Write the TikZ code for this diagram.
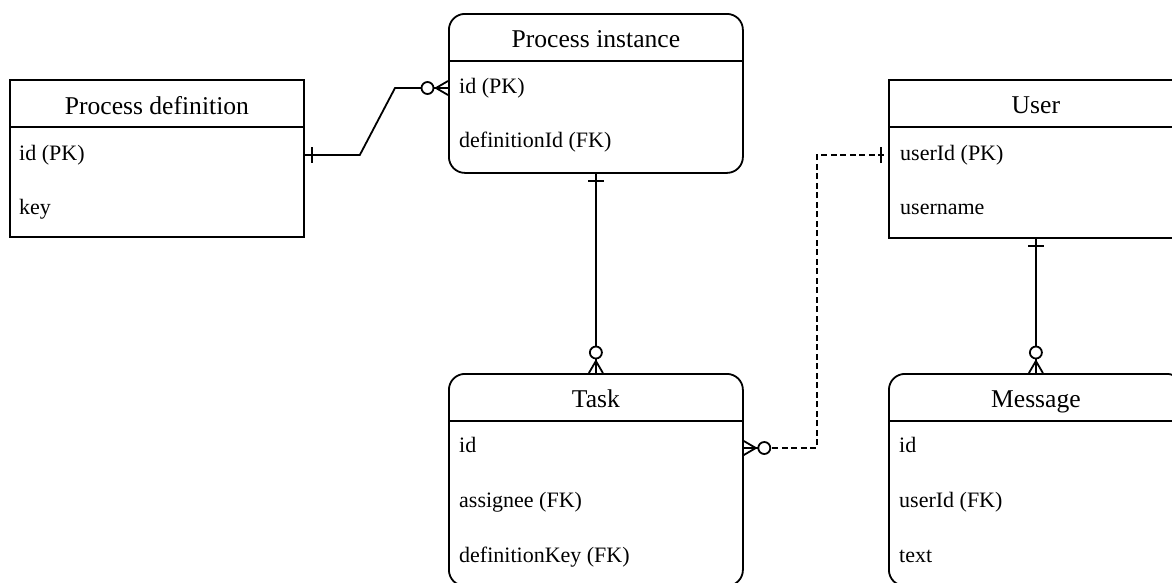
\documentclass[tikz,border=0pt]{standalone}
\usepackage{fontspec}
\setmainfont{Liberation Serif}
\usetikzlibrary{calc}
\tikzset{
  entity/.style={draw, line width=1.8pt, minimum width=294pt, inner sep=0pt, anchor=north west},
  roundent/.style={entity, rounded corners=16pt},
  hdr/.style={anchor=base, inner sep=0pt, font=\fontsize{25.6}{30}\selectfont},
  field/.style={anchor=base west, inner sep=0pt, font=\fontsize{22}{26}\selectfont},
  link/.style={line width=1.8pt},
  dashedlink/.style={link, dash pattern=on 6pt off 3.5pt},
  pics/onemark/.style={code={\draw[link] (7,-8) -- (7,8);}},
  pics/zeromany/.style={code={
    \draw[link] (0,-7) -- (12,0) (0,0) -- (12,0) (0,7) -- (12,0);
    \draw[link, fill=white] (20.5,0) circle (6pt);}}
}
\begin{document}
\begin{tikzpicture}[x=1pt, y=-1pt]
  \fill[white] (0,0) rectangle (1172,582);
  \clip (0,0) rectangle (1172,582);

  % entities
  \node[entity, minimum height=157pt] (pd) at (9,79) {};
  \node[roundent, minimum height=159pt] (pi) at (448,13) {};
  \node[entity, minimum height=158pt] (us) at (888,79) {};
  \node[roundent, minimum height=212pt] (tk) at (448,373) {};
  \node[roundent, minimum height=212pt] (ms) at (888,373) {};

  % header separators
  \foreach \e in {pd,pi,us,tk,ms}
    \draw[link] ($(\e.north west)+(0,48)$) -- ($(\e.north east)+(0,48)$);

  % titles
  \node[hdr] (pd-title) at ($(pd.north)+(0,35)$) {Process definition};
  \node[hdr] (pi-title) at ($(pi.north)+(0,34)$) {Process instance};
  \node[hdr] (us-title) at ($(us.north)+(0,34)$) {User};
  \node[hdr] (tk-title) at ($(tk.north)+(0,34)$) {Task};
  \node[hdr] (ms-title) at ($(ms.north)+(0,34)$) {Message};

  % fields
  \node[field] (pd-f1) at ($(pd.north west)+(10,81)$) {id (PK)};
  \node[field] (pd-f2) at ($(pd.north west)+(10,135)$) {key};
  \node[field] (pi-f1) at ($(pi.north west)+(11,80)$) {id (PK)};
  \node[field] (pi-f2) at ($(pi.north west)+(11,134)$) {definitionId (FK)};
  \node[field] (us-f1) at ($(us.north west)+(12,81)$) {userId (PK)};
  \node[field] (us-f2) at ($(us.north west)+(12,135)$) {username};
  \node[field] (tk-f1) at ($(tk.north west)+(11,79)$) {id};
  \node[field] (tk-f2) at ($(tk.north west)+(11,134)$) {assignee (FK)};
  \node[field] (tk-f3) at ($(tk.north west)+(11,189)$) {definitionKey (FK)};
  \node[field] (ms-f1) at ($(ms.north west)+(11,79)$) {id};
  \node[field] (ms-f2) at ($(ms.north west)+(11,134)$) {userId (FK)};
  \node[field] (ms-f3) at ($(ms.north west)+(11,189)$) {text};

  % connector end points
  \coordinate (pd-r) at ($(pd.north east)+(0,76)$);
  \coordinate (pi-l) at ($(pi.north west)+(0,75)$);
  \coordinate (tk-r) at ($(tk.north east)+(0,75)$);
  \coordinate (us-l) at ($(us.north west)+(0,76)$);

  % Process definition 1 -- 0..n Process instance
  \draw[link] (pd-r) -- ++(55,0) -- ($(pi-l)+(-53,0)$) -- (pi-l);
  \pic at (pd-r) {onemark};
  \pic[rotate=180] at (pi-l) {zeromany};

  % Process instance 1 -- 0..n Task
  \draw[link] (pi.south) -- (tk.north);
  \pic[rotate=-90] at (pi.south) {onemark};
  \pic[rotate=90] at (tk.north) {zeromany};

  % Task 0..n -- 1 User
  \draw[dashedlink] (tk-r) -- ++(73,0) |- (us-l);
  \pic at (tk-r) {zeromany};
  \pic[rotate=180] at (us-l) {onemark};

  % User 1 -- 0..n Message
  \draw[link] (us.south) -- (ms.north);
  \pic[rotate=-90] at (us.south) {onemark};
  \pic[rotate=90] at (ms.north) {zeromany};
\end{tikzpicture}
\end{document}
